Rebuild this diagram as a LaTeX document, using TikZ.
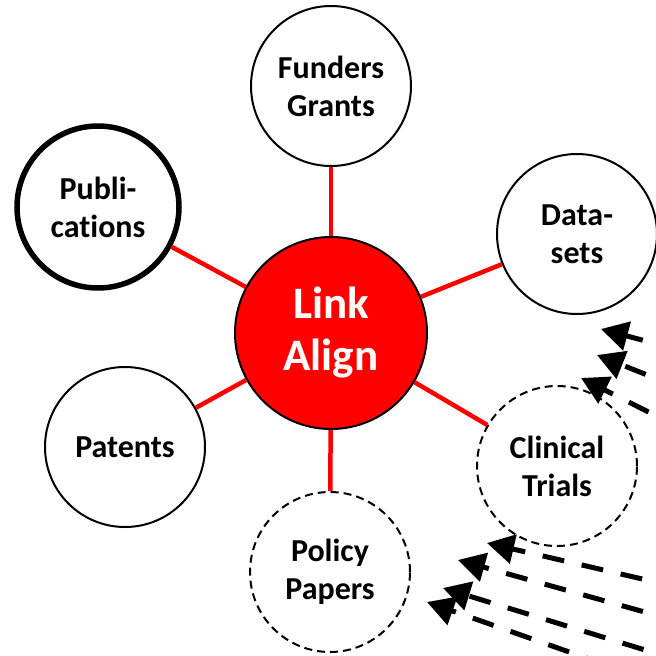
\documentclass[tikz,border=0pt]{standalone}
\usepackage{fontspec}
\setmainfont{Carlito}[Ligatures=NoCommon]
\usetikzlibrary{arrows.meta}

\begin{document}
\begin{tikzpicture}[x=1pt,y=-1pt,
  sat/.style={circle,draw,fill=white,line width=2,minimum size=160,inner sep=0pt,align=center,font=\fontsize{32}{38}\selectfont\bfseries},
  pending/.style={sat,dash pattern=on 8pt off 5pt},
  hub/.style={circle,draw,fill=red,line width=2,minimum size=192,inner sep=0pt,align=center,text=white,font=\fontsize{45}{52}\selectfont\bfseries},
  link/.style={red,line width=4.5},
  feed/.style={line width=5,dash pattern=on 22pt off 18pt,-{Triangle[length=27pt,width=29pt]}}]
\useasboundingbox (0,0) rectangle (656,656);
\clip (0,0) rectangle (656,656);

%Shape: Circle [id:hub]
\node[hub] (link) at (331,333) {Link\\Align};

%Shape: Circle [id:satellites]
\node[sat] (fund) at (331,86) {Funders\\Grants};
\node[sat,line width=5.5,minimum size=162] (pub) at (98,207) {Publi-\\cations};
\node[sat] (data) at (577,234) {Data-\\sets};
\node[sat] (pat) at (125,447) {Patents};
\node[pending] (trial) at (557,466) {Clinical\\Trials};
\node[pending] (policy) at (330,572) {Policy\\Papers};

%Straight Lines [id:links]
\draw[link] (link) -- (fund);
\draw[link] (link) -- (pub);
\draw[link] (link) -- (data);
\draw[link] (link) -- (pat);
\draw[link] (link) -- (trial);
\draw[link] (link) -- (policy);

%Straight Lines [id:incoming, right]
\coordinate (a1) at (601,329); \coordinate (s1) at (720,361);
\coordinate (a2) at (597,355); \coordinate (s2) at (720,404);
\coordinate (a3) at (581,378); \coordinate (s3) at (720,448);
\draw[feed] (s1) -- (a1);
\draw[feed] (s2) -- (a2);
\draw[feed] (s3) -- (a3);

%Straight Lines [id:incoming, bottom]
\coordinate (b1) at (487,543); \coordinate (t1) at (720,597);
\coordinate (b2) at (458,560); \coordinate (t2) at (720,633);
\coordinate (b3) at (443,588); \coordinate (t3) at (720,673);
\coordinate (b4) at (427,602); \coordinate (t4) at (720,705);
\draw[feed] (t1) -- (b1);
\draw[feed] (t2) -- (b2);
\draw[feed] (t3) -- (b3);
\draw[feed] (t4) -- (b4);

\end{tikzpicture}
\end{document}
